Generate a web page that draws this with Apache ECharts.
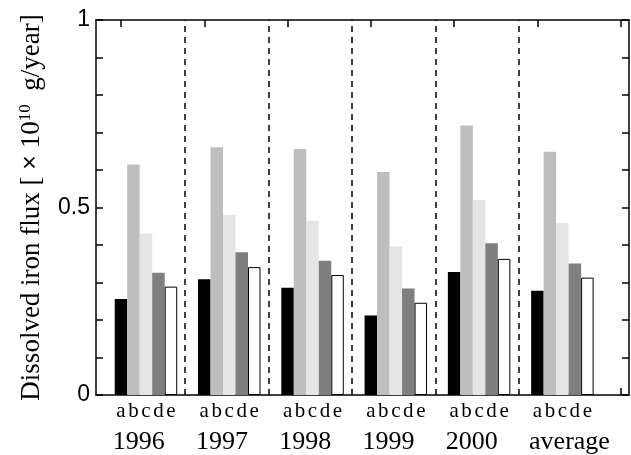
<!DOCTYPE html>
<html>
<head>
<meta charset="utf-8">
<script src="https://cdn.jsdelivr.net/npm/echarts@6/dist/echarts.min.js"></script>
<style>
html,body{margin:0;padding:0;background:#fff;}
#chart{width:631px;height:455px;}
</style>
</head>
<body>
<div id="chart"></div>
<script>
// ---- data ----
const groups = ['1996', '1997', '1998', '1999', '2000', 'average'];
const barLetters = ['a', 'b', 'c', 'd', 'e'];
const seriesA = [0.256, 0.309, 0.286, 0.212, 0.328, 0.278];
const seriesB = [0.615, 0.661, 0.656, 0.595, 0.719, 0.649];
const seriesC = [0.431, 0.481, 0.465, 0.396, 0.520, 0.459];
const seriesD = [0.326, 0.381, 0.358, 0.284, 0.405, 0.351];
const seriesE = [0.289, 0.341, 0.320, 0.246, 0.363, 0.313];
const yLabelValues = [0, 0.5, 1];

// ---- layout helpers ----
const barStep = 0.15;          // spacing of bars inside a group (x units)
const dividerOffset = 0.775;   // dashed separator position after a group
const yearLabelOffset = -0.1;  // year labels are left-aligned near the first bar
const allSeries = [seriesA, seriesB, seriesC, seriesD, seriesE];
const colors = ['#000000', '#bebebe', '#e5e5e5', '#7f7f7f', '#ffffff'];
const groupX = groups.map((g, i) => i + 1);
const barCenters = [];
groupX.forEach(gx => barLetters.forEach((l, k) => barCenters.push(gx + k * barStep)));
const yearLabelX = groupX.map(gx => gx + yearLabelOffset);
const dividers = groupX.slice(0, groupX.length - 1).map(gx => gx + dividerOffset);
const tickX = groupX.concat([groupX.length + 1]);

const serif = 'Liberation Serif';
const sans = 'Liberation Sans';

const chart = echarts.init(document.getElementById('chart'), null, {renderer: 'canvas'});

const axisLine = {show: true, onZero: false, lineStyle: {color: '#000', width: 1.5}};

const option = {
  animation: false,
  backgroundColor: '#fff',
  grid: {left: 96, right: 2, top: 20, bottom: 58, containLabel: false},
  xAxis: [
    {
      type: 'value', position: 'bottom', min: 0.7, max: 7.1,
      axisLine: axisLine,
      axisTick: {show: true, inside: true, length: 7, customValues: tickX, lineStyle: {color: '#000', width: 1.5}},
      axisLabel: {
        show: true, customValues: barCenters, margin: 6,
        fontFamily: serif, fontSize: 21, color: '#000',
        formatter: v => barLetters[Math.round(((v + 1e-9) % 1) / barStep)]
      },
      splitLine: {show: false}
    },
    {
      type: 'value', position: 'bottom', min: 0.7, max: 7.1,
      axisLine: {show: false}, axisTick: {show: false},
      axisLabel: {
        show: true, customValues: yearLabelX, margin: 34, align: 'left',
        fontFamily: serif, fontSize: 26, color: '#000',
        formatter: v => groups[Math.round(v - yearLabelOffset) - 1]
      },
      splitLine: {show: false}
    },
    {
      type: 'value', position: 'top', min: 0.7, max: 7.1,
      axisLine: axisLine,
      axisTick: {show: true, inside: true, length: 7, customValues: tickX, lineStyle: {color: '#000', width: 1.5}},
      axisLabel: {show: false},
      splitLine: {show: false}
    }
  ],
  yAxis: [
    {
      type: 'value', position: 'left', min: 0, max: 1, interval: 0.1,
      axisLine: axisLine,
      axisTick: {show: true, inside: true, length: 7, lineStyle: {color: '#000', width: 1.5}},
      axisLabel: {show: true, customValues: yLabelValues, margin: 6, fontFamily: sans, fontSize: 23, color: '#000'},
      splitLine: {show: false},
      name: 'Dissolved iron flux [ {x|×} 10{s|10}  g/year]',
      nameLocation: 'middle', nameRotate: 90, nameGap: 50,
      nameTextStyle: {
        fontFamily: serif, fontSize: 27, color: '#000',
        rich: {
          x: {fontFamily: sans, fontSize: 25, color: '#000'},
          s: {fontFamily: serif, fontSize: 17, color: '#000', verticalAlign: 'top', padding: [0, 0, 12, 0]}
        }
      }
    },
    {
      type: 'value', position: 'right', min: 0, max: 1, interval: 0.1,
      axisLine: axisLine,
      axisTick: {show: true, inside: true, length: 7, lineStyle: {color: '#000', width: 1.5}},
      axisLabel: {show: false},
      splitLine: {show: false}
    }
  ],
  series: allSeries.map((vals, k) => ({
    name: barLetters[k],
    type: 'bar',
    xAxisIndex: 0, yAxisIndex: 0,
    barWidth: 12.5,
    barGap: '-100%',
    data: vals.map((v, i) => [groupX[i] + k * barStep, v]),
    itemStyle: k === 4
      ? {color: colors[k], borderColor: '#000', borderWidth: 1}
      : {color: colors[k]},
    markLine: k === 0 ? {
      silent: true, symbol: ['none', 'none'],
      label: {show: false},
      lineStyle: {color: '#000', type: [6, 5], width: 1.5},
      data: dividers.map(d => ({xAxis: d}))
    } : undefined
  }))
};

chart.setOption(option);
</script>
</body>
</html>
